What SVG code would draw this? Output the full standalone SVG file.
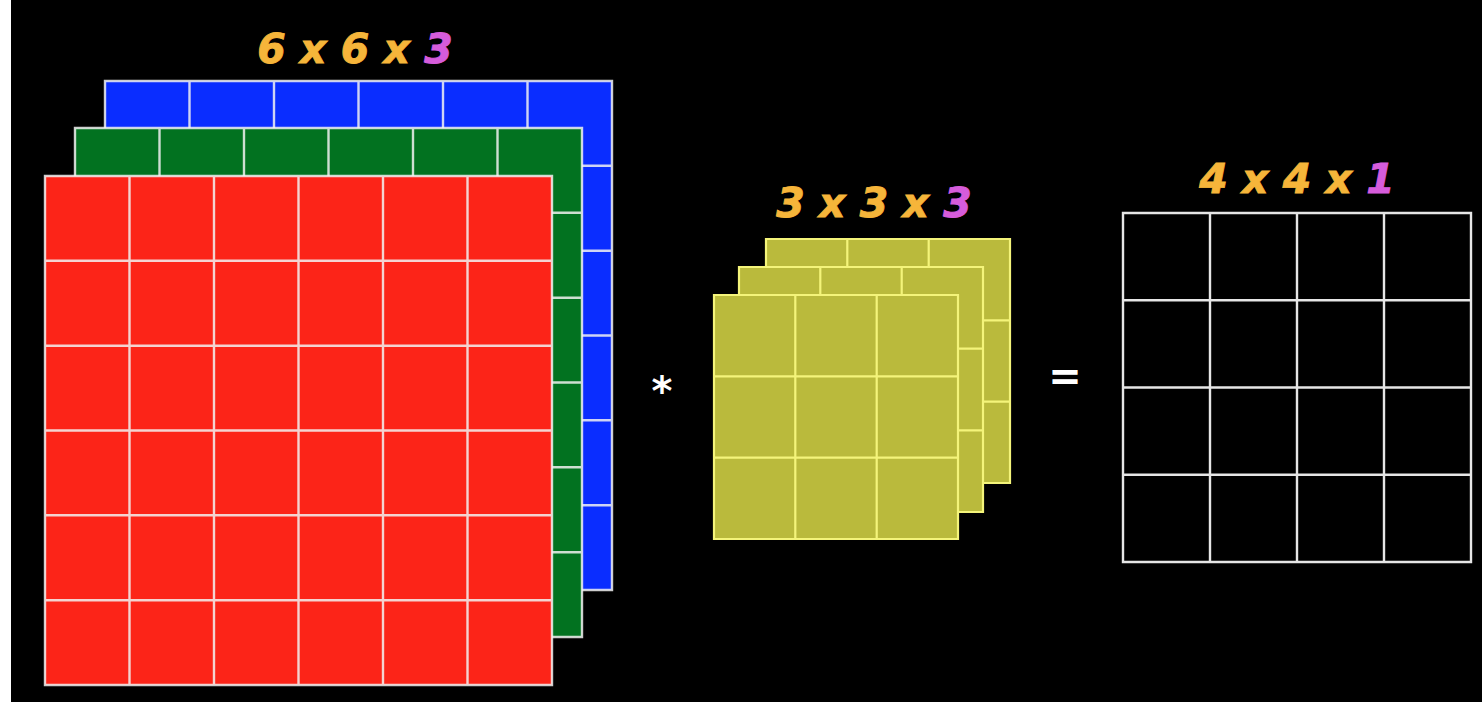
<svg xmlns="http://www.w3.org/2000/svg" width="1482" height="702" viewBox="0 0 1482 702">
<defs>
<style>
.grid{stroke:#f2f2f2;stroke-width:2.4;stroke-opacity:0.85;fill:none}
.ygrid{stroke:#f4f47a;stroke-width:2.2;fill:none}
.ogrid{stroke:#e6e6e6;stroke-width:2.4;fill:none}
.lbl{font-family:"DejaVu Sans","Liberation Sans",sans-serif;font-weight:bold;font-style:italic;font-size:41px;text-anchor:middle;stroke-width:0.9}
.or{fill:#F6B53A;stroke:#F6B53A}
.mg{fill:#D65CDB;stroke:#D65CDB}
.op{font-family:"DejaVu Sans","Liberation Sans",sans-serif;font-weight:bold;fill:#ffffff;text-anchor:middle}
</style>
</defs>
<rect x="0" y="0" width="1482" height="702" fill="#000"/>
<rect x="0" y="0" width="11" height="702" fill="#fff"/>

<g id="input-blue">
<rect x="105" y="81" width="507" height="509" fill="#0A2DFF"/>
<path class="grid" d="M105 81H612V590H105Z M189.5 81V590 M274 81V590 M358.5 81V590 M443 81V590 M527.5 81V590 M105 165.8H612 M105 250.7H612 M105 335.5H612 M105 420.3H612 M105 505.2H612"/>
</g>
<g id="input-green">
<rect x="75" y="128" width="507" height="509" fill="#027220"/>
<path class="grid" d="M75 128H582V637H75Z M159.5 128V637 M244 128V637 M328.5 128V637 M413 128V637 M497.5 128V637 M75 212.8H582 M75 297.7H582 M75 382.5H582 M75 467.3H582 M75 552.2H582"/>
</g>
<g id="input-red">
<rect x="45" y="176" width="507" height="509" fill="#FC2418"/>
<path class="grid" d="M45 176H552V685H45Z M129.5 176V685 M214 176V685 M298.5 176V685 M383 176V685 M467.5 176V685 M45 260.8H552 M45 345.7H552 M45 430.5H552 M45 515.3H552 M45 600.2H552"/>
</g>

<g id="filter-back">
<rect x="766" y="239" width="244" height="244" fill="#BABA3C"/>
<path class="ygrid" d="M766 239H1010V483H766Z M847.3 239V483 M928.7 239V483 M766 320.3H1010 M766 401.7H1010"/>
</g>
<g id="filter-middle">
<rect x="739" y="267" width="244" height="245" fill="#BABA3C"/>
<path class="ygrid" d="M739 267H983V512H739Z M820.3 267V512 M901.7 267V512 M739 348.7H983 M739 430.3H983"/>
</g>
<g id="filter-front">
<rect x="714" y="295" width="244" height="244" fill="#BABA3C"/>
<path class="ygrid" d="M714 295H958V539H714Z M795.3 295V539 M876.7 295V539 M714 376.3H958 M714 457.7H958"/>
</g>

<g id="output">
<path class="ogrid" d="M1123 213H1471V562H1123Z M1210 213V562 M1297 213V562 M1384 213V562 M1123 300.3H1471 M1123 387.5H1471 M1123 474.8H1471"/>
</g>

<g id="labels">
<text class="lbl" x="355" y="63"><tspan class="or">6 x 6 x </tspan><tspan class="mg">3</tspan></text>
<text class="lbl" x="874" y="217"><tspan class="or">3 x 3 x </tspan><tspan class="mg">3</tspan></text>
<text class="lbl" x="1297" y="193"><tspan class="or">4 x 4 x </tspan><tspan class="mg">1</tspan></text>
</g>

<g id="operators">
<text class="op" x="662" y="405" font-size="40">*</text>
<text class="op" x="1065" y="390" font-size="40">=</text>
</g>

<g id="connectors"></g>
</svg>
